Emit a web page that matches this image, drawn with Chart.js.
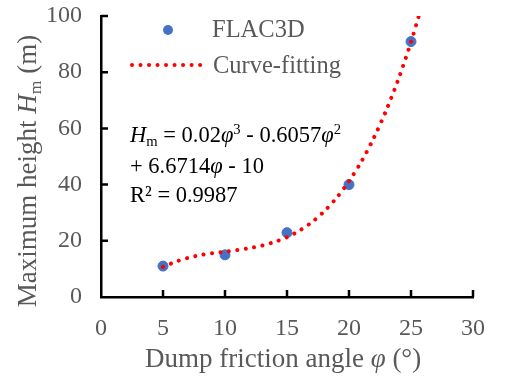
<!DOCTYPE html>
<html>
<head>
<meta charset="utf-8">
<script src="https://cdn.jsdelivr.net/npm/chart.js@4.4.1/dist/chart.umd.min.js"></script>
<style>
  html, body { margin: 0; padding: 0; background: #fff; }
  #wrap { width: 508px; height: 380px; }
</style>
</head>
<body>
<div id="wrap"><canvas id="c"></canvas></div>
<script>
// FLAC3D results
const frictionAngles = [5, 10, 15, 20, 25];
const maxHeights = [11.0, 15.0, 22.9, 40.0, 90.9];

// fitted curve
const fitAngles = [5, 6, 7, 8, 9, 10, 11, 12, 13, 14, 15, 16, 17, 18, 19, 20, 21, 22, 23, 24, 25, 25.63];
const fitHeights = [10.7, 12.5, 13.9, 14.9, 15.6, 16.1, 16.7, 17.4, 18.3, 19.6, 21.3, 23.6, 26.6, 30.5, 35.3, 41.2, 48.2, 56.6, 66.4, 77.7, 90.7, 100];

const xTicks = [0, 5, 10, 15, 20, 25, 30];
const yTicks = [0, 20, 40, 60, 80, 100];

const SERIF = '"Liberation Serif", "Times New Roman", serif';
const GREY = '#595959';
const BLUE = '#4472C4';
const RED = '#FF0000';

// draw a run of text pieces with different styles
function richWidth(ctx, segs, size) {
    let w = 0;
    segs.forEach(s => {
        ctx.font = (s.i ? 'italic ' : '') + (size * (s.k || 1)) + 'px ' + SERIF;
        w += ctx.measureText(s.t).width;
    });
    return w;
}

function drawRich(ctx, x, y, segs, size) {
    let cx = x;
    segs.forEach(s => {
        ctx.font = (s.i ? 'italic ' : '') + (size * (s.k || 1)) + 'px ' + SERIF;
        ctx.fillText(s.t, cx, y + (s.dy || 0) * size);
        cx += ctx.measureText(s.t).width;
    });
}

const decorations = {
    id: 'decorations',
    afterDraw(chart) {
        const ctx = chart.ctx;
        const xs = chart.scales.x;
        const ys = chart.scales.y;
        const area = chart.chartArea;
        ctx.save();

        // inside tick marks
        ctx.strokeStyle = '#000';
        ctx.lineWidth = 2.5;
        ctx.beginPath();
        yTicks.forEach(v => {
            if (v === 0) return;
            const py = ys.getPixelForValue(v);
            ctx.moveTo(area.left, py);
            ctx.lineTo(area.left + 7, py);
        });
        xTicks.forEach(v => {
            if (v === 0) return;
            const px = xs.getPixelForValue(v);
            ctx.moveTo(px, area.bottom);
            ctx.lineTo(px, area.bottom - 7);
        });
        ctx.stroke();

        ctx.textBaseline = 'alphabetic';
        ctx.textAlign = 'left';

        // axis titles
        ctx.fillStyle = GREY;
        drawRich(ctx, 145, 367, [
            { t: 'Dump friction angle ' },
            { t: 'φ', i: true },
            { t: ' (°)' }
        ], 27);

        const ySegs = [
            { t: 'Maximum height ' },
            { t: 'H', i: true },
            { t: 'm', k: 0.65, dy: 0.18 },
            { t: ' (m)' }
        ];
        const yw = richWidth(ctx, ySegs, 27);
        ctx.save();
        ctx.translate(36, 171);
        ctx.rotate(-Math.PI / 2);
        drawRich(ctx, -yw / 2, 0, ySegs, 27);
        ctx.restore();

        // legend
        ctx.fillStyle = BLUE;
        ctx.beginPath();
        ctx.arc(168, 30, 5, 0, Math.PI * 2);
        ctx.fill();
        ctx.strokeStyle = RED;
        ctx.lineWidth = 4;
        ctx.lineCap = 'round';
        ctx.setLineDash([0.01, 8.5]);
        ctx.beginPath();
        ctx.moveTo(132, 65);
        ctx.lineTo(201, 65);
        ctx.stroke();
        ctx.setLineDash([]);
        ctx.fillStyle = GREY;
        ctx.font = '24.5px ' + SERIF;
        ctx.fillText('FLAC3D', 212, 37);
        ctx.fillText('Curve-fitting', 213, 73);

        // trendline equation
        ctx.fillStyle = '#000';
        const eq = 22.5;
        drawRich(ctx, 130, 142, [
            { t: 'H', i: true },
            { t: 'm', k: 0.65, dy: 0.18 },
            { t: ' = 0.02' },
            { t: 'φ', i: true },
            { t: '3', k: 0.65, dy: -0.35 },
            { t: ' - 0.6057' },
            { t: 'φ', i: true },
            { t: '2', k: 0.65, dy: -0.35 }
        ], eq);
        drawRich(ctx, 130, 173, [
            { t: '+ 6.6714' },
            { t: 'φ', i: true },
            { t: ' - 10' }
        ], eq);
        drawRich(ctx, 130, 202, [{ t: 'R² = 0.9987' }], eq);

        ctx.restore();
    }
};

new Chart(document.getElementById('c'), {
    type: 'scatter',
    data: {
        datasets: [
            {
                label: 'Curve-fitting',
                type: 'line',
                data: fitAngles.map((a, i) => ({ x: a, y: fitHeights[i] })),
                borderColor: RED,
                borderWidth: 4,
                borderDash: [0.01, 8.5],
                borderCapStyle: 'round',
                pointRadius: 0,
                tension: 0.3,
                fill: false,
                order: 1
            },
            {
                label: 'FLAC3D',
                data: frictionAngles.map((a, i) => ({ x: a, y: maxHeights[i] })),
                backgroundColor: BLUE,
                borderColor: BLUE,
                pointRadius: 5,
                order: 2
            }
        ]
    },
    options: {
        responsive: true,
        maintainAspectRatio: false,
        animation: false,
        layout: { padding: { left: 0, top: 16, right: 35, bottom: 0 } },
        plugins: {
            legend: { display: false },
            tooltip: { enabled: false }
        },
        scales: {
            x: {
                type: 'linear',
                min: 0,
                max: 30,
                afterFit: s => { s.height = 83; },
                afterBuildTicks: s => { s.ticks = xTicks.map(v => ({ value: v })); },
                // grid hidden, tickLength only spaces the labels off the axis
                grid: { display: false, drawTicks: true, tickLength: 17 },
                border: { display: true, color: '#000', width: 2.5 },
                ticks: { color: GREY, padding: 0, font: { family: SERIF, size: 24 } }
            },
            y: {
                min: 0,
                max: 100,
                afterFit: s => { s.width = 101; },
                afterBuildTicks: s => { s.ticks = yTicks.map(v => ({ value: v })); },
                grid: { display: false, drawTicks: true, tickLength: 19 },
                border: { display: true, color: '#000', width: 2.5 },
                ticks: { color: GREY, padding: 0, font: { family: SERIF, size: 24, lineHeight: 1.1 } }
            }
        }
    },
    plugins: [decorations]
});
</script>
</body>
</html>
